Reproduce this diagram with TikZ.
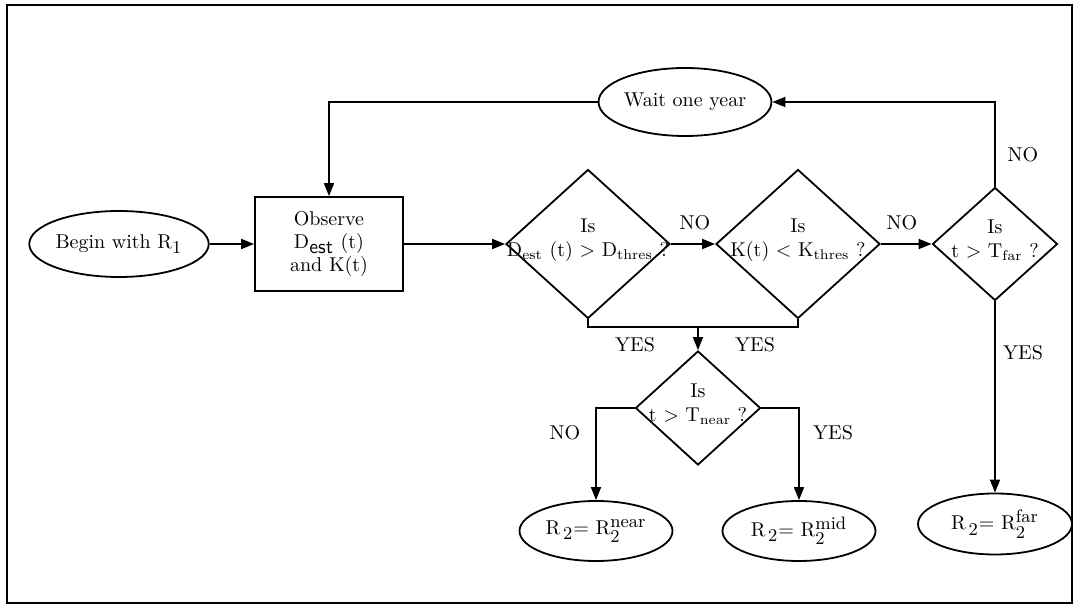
\documentclass[tikz,border=0pt]{standalone}
\usepackage{tikz}
\usetikzlibrary{shapes.geometric, arrows.meta, positioning}
\definecolor{inkblack}{RGB}{0,0,0}

\begin{document}
\begin{tikzpicture}[
    x=0.5pt, y=-0.5pt,
    terminal/.style={ellipse, draw=inkblack, inner sep=0pt, line width=0.9pt, font=\normalsize},
    process/.style={rectangle, draw=inkblack, minimum width=74pt, minimum height=47pt, align=center, line width=0.9pt, font=\fontsize{10}{11.5}\selectfont},
    decision/.style={diamond, draw=inkblack, inner sep=0pt, line width=0.9pt},
    question/.style={align=center, inner sep=0pt, font=\fontsize{10}{12}\selectfont},
    answer/.style={font=\normalsize, inner sep=1pt},
    arrow/.style={-{Triangle[length=6.5pt, width=5pt]}, line width=0.9pt, color=inkblack},
    line/.style={line width=0.9pt, color=inkblack},
]
\useasboundingbox (0,0) rectangle (1078,608);

% Frame
\draw[line] (7,5) rectangle (1072,603);

% Start and observation
\node[terminal, minimum width=84pt, minimum height=33pt] (begin) at (119,244) {Begin with R$_{\mbox{\small 1}}$};
\node[process] (observe) at (329,244) {Observe\\D$_{\textsf{est}}$ (t)\\and K(t)};
\node[terminal, minimum width=83pt, minimum height=34pt] (wait) at (685,102) {Wait one year};

% Tests
\node[decision, minimum width=82pt, minimum height=74.5pt] (dthres) at (588,244) {};
\node[question] (dthrestext) at (588,240) {Is\\D$_{\mathrm{est}}$ (t) > D$_{\mathrm{thres}}$ ?};
\node[decision, minimum width=82pt, minimum height=74.5pt] (kthres) at (798,244) {};
\node[question] (kthrestext) at (798,240) {Is\\K(t) < K$_{\mathrm{thres}}$ ?};
\node[decision, minimum width=62.5pt, minimum height=56.5pt] (tfar) at (995,244) {};
\node[question] (tfartext) at (995,240) {Is\\t > T$_{\mathrm{far}}$ ?};
\node[decision, minimum width=62.5pt, minimum height=57pt] (tnear) at (698,408) {};
\node[question] (tneartext) at (698,404) {Is\\t > T$_{\mathrm{near}}$ ?};

% Outcomes
\node[terminal, minimum width=76.5pt, minimum height=30pt] (near) at (596,531) {R$_{\,\mbox{\small 2}}$= R$^{\mbox{\small near}}_{\mbox{\small 2}}$};
\node[terminal, minimum width=76.5pt, minimum height=30pt] (mid) at (799,531) {R$_{\,\mbox{\small 2}}$= R$^{\mbox{\small mid}}_{\mbox{\small 2}}$};
\node[terminal, minimum width=77pt, minimum height=30.5pt] (far) at (995,524) {R$_{\,\mbox{\small 2}}$= R$^{\mbox{\small far}}_{\mbox{\small 2}}$};

\coordinate (join) at (698,327);

% Connectors
\draw[arrow] (begin) -- (observe);
\draw[arrow] (observe) -- (dthres);
\draw[arrow] (dthres) -- (kthres);
\draw[arrow] (kthres) -- (tfar);
\draw[line] (dthres.south) |- (join) -| (kthres.south);
\draw[arrow] (join) -- (tnear.north);
\draw[arrow] (tnear.west) -| (near.north);
\draw[arrow] (tnear.east) -| (mid.north);
\draw[arrow] (tfar.south) -- (far.north);
\draw[arrow] (tfar.north) |- (wait.east);
\draw[arrow] (wait.west) -| (observe.north);

% Answers
\node[answer] (no1) at (695,223) {NO};
\node[answer] (no2) at (902,223) {NO};
\node[answer] (no3) at (1023,155) {NO};
\node[answer] (yes1) at (635,345) {YES};
\node[answer] (yes2) at (755,345) {YES};
\node[answer] (no4) at (565,433) {NO};
\node[answer] (yes3) at (833,433) {YES};
\node[answer] (yes4) at (1023,353) {YES};

\end{tikzpicture}
\end{document}
